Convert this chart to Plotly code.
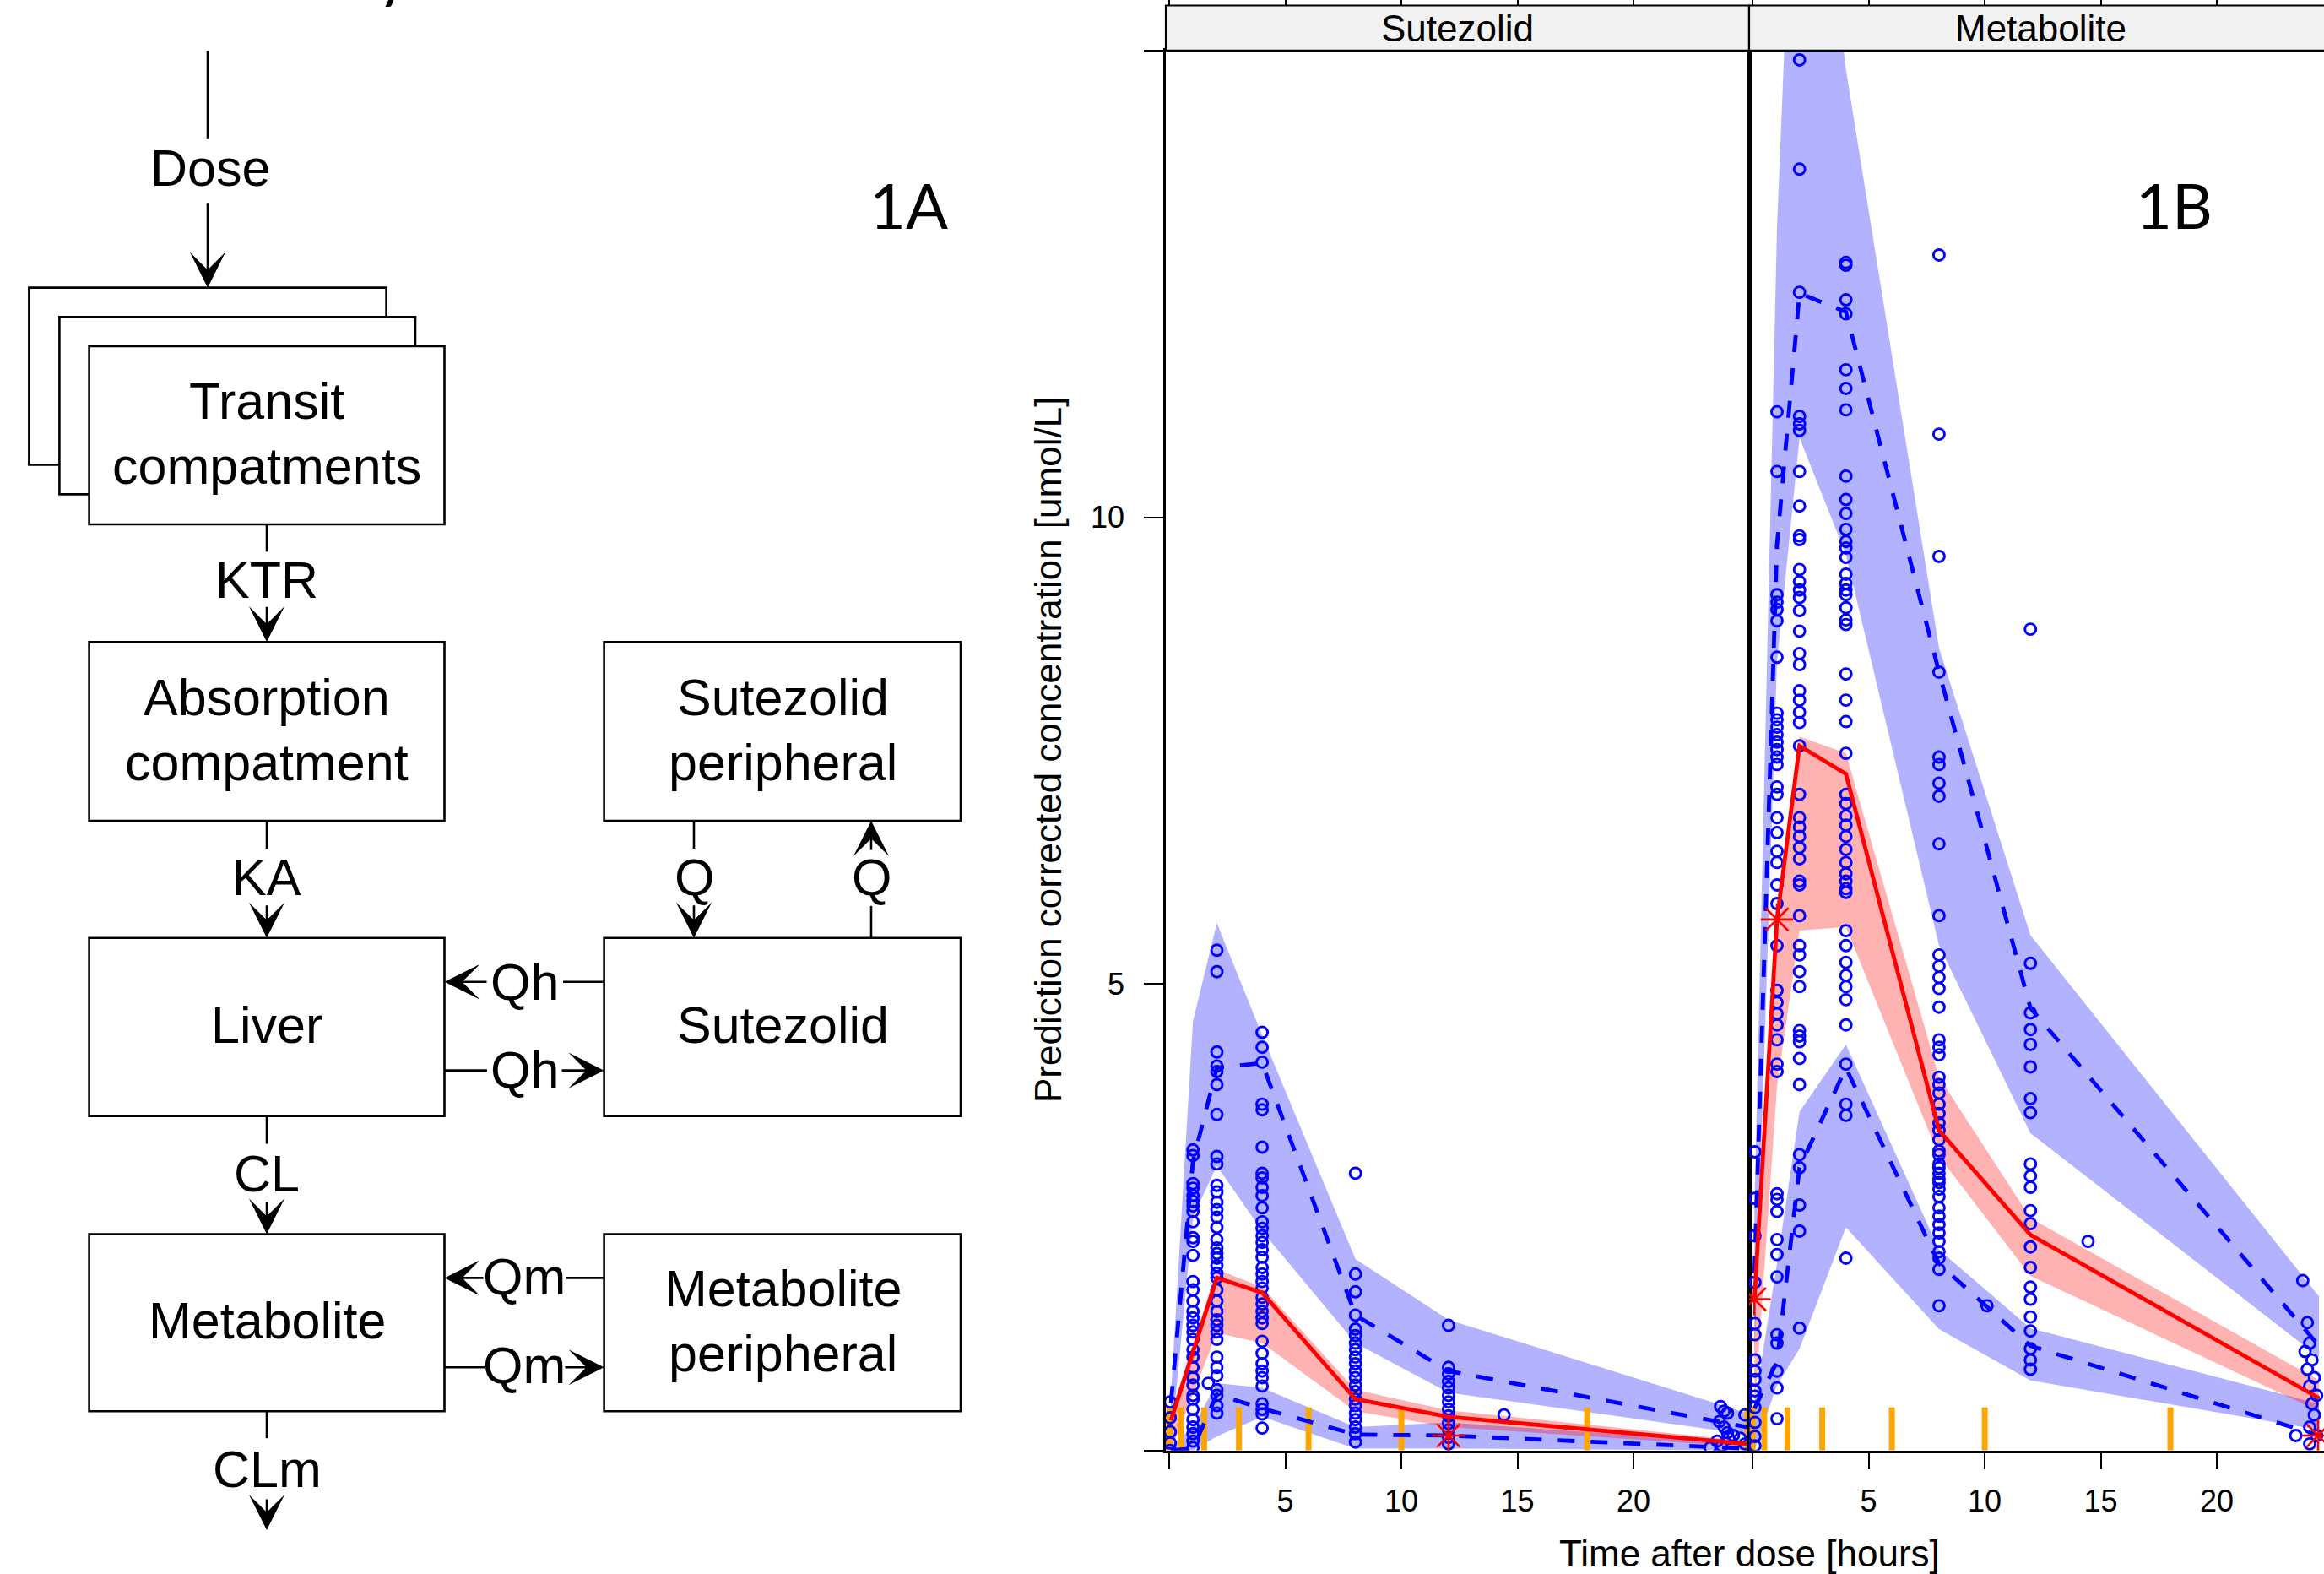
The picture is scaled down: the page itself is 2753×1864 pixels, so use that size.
import plotly.graph_objects as go

W, H = 2753, 1864

# ---------------- VPC data: Sutezolid panel ----------------
sut_bin_time = [0.07, 1.02, 2.05, 4.0, 8.02, 12.03, 24.9]
sut_obs_median = [0.32, 1.05, 1.85, 1.69, 0.55, 0.36, 0.07]
sut_obs_p95 = [0.51, 3.1, 4.1, 4.15, 1.45, 0.85, 0.25]
sut_obs_p5 = [0.0, 0.02, 0.6, 0.45, 0.17, 0.16, 0.02]
sut_ci95_lo = [0.05, 2.5, 3.05, 2.35, 1.15, 0.62, 0.17]
sut_ci95_hi = [0.6, 4.6, 5.65, 4.45, 2.05, 1.4, 0.40]
sut_ci50_lo = [0.0, 0.6, 1.26, 1.15, 0.42, 0.25, 0.04]
sut_ci50_hi = [0.4, 1.15, 1.94, 1.75, 0.65, 0.43, 0.1]
sut_ci5_lo = [0.0, 0.0, 0.15, 0.36, 0.02, 0.02, 0.0]
sut_ci5_hi = [0.05, 0.25, 0.72, 0.67, 0.25, 0.3, 0.08]
sut_bin_edges = [0, 0.5, 1.5, 3, 6, 10, 18, 24.9]
sut_flag_time = [12.03]
sut_flag_conc = [0.16]

sut_col_times = [0.04, 1.02, 1.68, 2.05, 4.0, 8.02, 12.03, 14.42]
sut_col_0h = [0.52, 0.35, 0.2, 0.08, 0.0]
sut_col_1h = [3.22, 3.16, 2.86, 2.81, 2.73, 2.67, 2.62, 2.56, 2.45, 2.28, 2.24, 2.09, 1.81, 1.72,
              1.6, 1.49, 1.42, 1.34, 1.27, 1.19, 1.08, 1.0, 0.89, 0.78, 0.7, 0.59, 0.55, 0.44,
              0.33, 0.25, 0.18, 0.1, 0.03]
sut_col_1h7 = [0.72]
sut_col_2h = [5.36, 5.13, 4.27, 4.12, 4.06, 3.92, 3.6, 3.15, 3.07, 2.84, 2.77, 2.66, 2.58, 2.5,
              2.39, 2.26, 2.17, 2.11, 2.06, 1.98, 1.9, 1.85, 1.72, 1.6, 1.49, 1.4, 1.34, 1.27,
              1.19, 1.0, 0.89, 0.8, 0.65, 0.59, 0.48, 0.4]
sut_col_4h = [4.48, 4.32, 4.16, 3.71, 3.65, 3.25, 2.97, 2.92, 2.82, 2.73, 2.6, 2.45, 2.38, 2.3,
              2.23, 2.15, 2.07, 1.96, 1.89, 1.81, 1.74, 1.64, 1.57, 1.49, 1.42, 1.36, 1.17, 1.04,
              0.93, 0.85, 0.78, 0.69, 0.5, 0.44, 0.39, 0.24]
sut_col_8h = [2.97, 1.89, 1.7, 1.45, 1.3, 1.23, 1.15, 1.08, 1.0, 0.93, 0.85, 0.78, 0.7, 0.63,
              0.55, 0.48, 0.4, 0.33, 0.25, 0.18, 0.09]
sut_col_12h = [1.34, 0.89, 0.82, 0.74, 0.67, 0.59, 0.52, 0.44, 0.37, 0.29, 0.22, 0.14, 0.07]
sut_col_14h = [0.38]
sut_late_time = [23.75, 23.9, 24.05, 23.7, 23.9, 24.05, 24.1, 24.3, 23.6, 23.8, 24.8, 24.6, 24.8, 23.3]
sut_late_conc = [0.47, 0.42, 0.4, 0.31, 0.25, 0.19, 0.13, 0.16, 0.1, 0.05, 0.38, 0.13, 0.07, 0.03]

# ---------------- VPC data: Metabolite panel ----------------
met_bin_time = [0.08, 1.05, 2.02, 4.02, 8.03, 11.97, 24.4]
met_obs_median = [1.62, 5.69, 7.55, 7.25, 3.43, 2.31, 0.56]
met_obs_p95 = [1.9, 9.7, 12.4, 12.2, 8.34, 4.74, 1.12]
met_obs_p5 = [0.45, 0.95, 3.03, 4.1, 2.0, 1.12, 0.16]
met_ci95_lo = [1.0, 8.45, 10.85, 9.6, 5.41, 3.4, 1.0]
met_ci95_hi = [2.6, 13.1, 19.0, 14.8, 8.6, 5.52, 1.65]
met_ci50_lo = [0.4, 3.9, 5.57, 5.61, 3.15, 1.87, 0.42]
met_ci50_hi = [1.3, 5.4, 7.65, 7.47, 4.0, 2.49, 0.75]
met_ci5_lo = [0.0, 0.7, 1.09, 2.39, 1.3, 0.75, 0.22]
met_ci5_hi = [0.5, 2.0, 3.63, 4.35, 2.15, 1.31, 0.5]
met_bin_edges = [0, 0.5, 1.5, 3, 6, 10, 18, 24.9]
met_flag_time = [0.08, 1.05, 24.36]
met_flag_conc = [1.62, 5.69, 0.16]

met_col_times = [0.1, 1.05, 2.02, 4.02, 8.03, 10.1, 11.97, 14.45]
met_col_0h = [3.2, 2.7, 2.3, 1.8, 1.36, 1.24, 0.97, 0.85, 0.76, 0.64, 0.58, 0.46, 0.3, 0.15, 0.05]
met_col_1h = [11.13, 10.49, 9.17, 9.09, 9.01, 8.89, 8.5, 7.9, 7.83, 7.75, 7.67, 7.59, 7.51, 7.43,
              7.35, 7.11, 7.03, 6.78, 6.62, 6.42, 6.3, 6.06, 5.86, 5.41, 4.93, 4.8, 4.68, 4.56,
              4.4, 4.14, 4.06, 2.75, 2.69, 2.56, 2.26, 2.1, 1.86, 1.24, 1.15, 0.85, 0.67, 0.34]
met_col_2h = [14.9, 13.73, 12.41, 11.08, 11.0, 10.93, 10.49, 10.12, 9.8, 9.76, 9.44, 9.31, 9.22,
              9.14, 9.0, 8.78, 8.54, 8.42, 8.14, 8.04, 7.91, 7.8, 7.55, 7.03, 6.78, 6.68, 6.58,
              6.46, 6.34, 6.1, 6.06, 5.73, 5.41, 5.31, 5.13, 4.97, 4.5, 4.44, 4.38, 4.2, 3.92,
              3.17, 3.03, 2.63, 2.35, 1.31]
met_col_4h = [12.73, 12.7, 12.33, 12.18, 11.58, 11.38, 11.15, 10.44, 10.19, 10.04, 9.87, 9.74,
              9.67, 9.57, 9.39, 9.29, 9.22, 9.17, 9.03, 8.9, 8.85, 8.32, 8.04, 7.81, 7.47, 7.03,
              6.93, 6.8, 6.7, 6.58, 6.44, 6.3, 6.18, 6.1, 6.02, 5.98, 5.57, 5.41, 5.23, 5.09,
              4.97, 4.83, 4.56, 4.14, 3.71, 3.59, 2.06]
met_col_8h = [12.81, 10.89, 9.58, 8.34, 7.43, 7.35, 7.15, 7.01, 6.5, 5.73, 5.31, 5.19, 5.07, 4.95,
              4.75, 4.4, 4.32, 4.24, 4.0, 3.92, 3.83, 3.71, 3.61, 3.51, 3.43, 3.33, 3.21, 3.17,
              3.07, 3.03, 2.97, 2.91, 2.87, 2.8, 2.72, 2.6, 2.51, 2.42, 2.33, 2.24, 2.13, 2.06,
              1.94, 1.55]
met_col_10h = [1.55]
met_col_12h = [8.8, 5.22, 4.69, 4.51, 4.35, 4.11, 3.77, 3.62, 3.07, 2.94, 2.82, 2.57, 2.43, 2.18,
               1.96, 1.75, 1.62, 1.43, 1.28, 1.09, 0.97, 0.87]
met_col_14h = [2.24]
met_late_time = [23.7, 23.9, 24.0, 23.8, 24.1, 23.9, 24.2, 24.0, 24.3, 24.1, 24.2, 24.0, 24.3, 23.4, 24.0]
met_late_conc = [1.82, 1.37, 1.15, 1.06, 0.97, 0.87, 0.78, 0.69, 0.59, 0.5, 0.38, 0.25, 0.16, 0.16, 0.07]

x_ticks = [0, 5, 10, 15, 20]
x_tick_text = ["", "5", "10", "15", "20"]
y_ticks = [0, 5, 10, 15]
y_tick_text = ["", "5", "10", ""]

BLUE = "#0000ff"
RED = "#ff0000"
BLUE_BAND = "rgba(0,0,255,0.30)"
RED_BAND = "rgba(255,0,0,0.30)"
ORANGE = "#ffa500"
FONT = "Liberation Sans, Arial, sans-serif"
LETTER_FONT = "Lato, Open Sans, sans-serif"

fig = go.Figure()


def build_obs(col_times, cols, late_t, late_c):
    xs, ys = [], []
    for t, vals in zip(col_times, cols):
        xs += [t] * len(vals)
        ys += list(vals)
    xs += list(late_t)
    ys += list(late_c)
    return xs, ys


def add_panel(xa, ya, bt, med, p95, p5, c95, c50, c5, edges, ox, oy, ft, fc):
    for lo, hi, col in [(c95[0], c95[1], BLUE_BAND), (c5[0], c5[1], BLUE_BAND), (c50[0], c50[1], RED_BAND)]:
        fig.add_trace(go.Scatter(x=bt + bt[::-1], y=hi + lo[::-1], mode="lines", fill="toself",
                                 fillcolor=col, line=dict(width=0), xaxis=xa, yaxis=ya,
                                 hoverinfo="skip"))
    rx, ry = [], []
    for e in edges:
        rx += [e, e, None]
        ry += [0, 0.46, None]
    fig.add_trace(go.Scatter(x=rx, y=ry, mode="lines", line=dict(color=ORANGE, width=7),
                             xaxis=xa, yaxis=ya, hoverinfo="skip"))
    fig.add_trace(go.Scatter(x=ox, y=oy, mode="markers",
                             marker=dict(symbol="circle-open", size=13, color=BLUE,
                                         line=dict(width=2.9, color=BLUE)),
                             xaxis=xa, yaxis=ya))
    for p in (p95, p5):
        fig.add_trace(go.Scatter(x=bt, y=p, mode="lines",
                                 line=dict(color=BLUE, width=4.8, dash="20px,19px"),
                                 xaxis=xa, yaxis=ya))
    fig.add_trace(go.Scatter(x=bt, y=med, mode="lines", line=dict(color=RED, width=4.8),
                             xaxis=xa, yaxis=ya))
    fig.add_trace(go.Scatter(x=ft, y=fc, mode="markers",
                             marker=dict(symbol="asterisk-open", size=32, color=RED,
                                         line=dict(width=2.6, color=RED)),
                             xaxis=xa, yaxis=ya))


sox, soy = build_obs(sut_col_times, [sut_col_0h, sut_col_1h, sut_col_1h7, sut_col_2h, sut_col_4h,
                                     sut_col_8h, sut_col_12h, sut_col_14h], sut_late_time, sut_late_conc)
mox, moy = build_obs(met_col_times, [met_col_0h, met_col_1h, met_col_2h, met_col_4h, met_col_8h,
                                     met_col_10h, met_col_12h, met_col_14h], met_late_time, met_late_conc)

add_panel("x", "y", sut_bin_time, sut_obs_median, sut_obs_p95, sut_obs_p5,
          (sut_ci95_lo, sut_ci95_hi), (sut_ci50_lo, sut_ci50_hi), (sut_ci5_lo, sut_ci5_hi),
          sut_bin_edges, sox, soy, sut_flag_time, sut_flag_conc)
add_panel("x2", "y2", met_bin_time, met_obs_median, met_obs_p95, met_obs_p5,
          (met_ci95_lo, met_ci95_hi), (met_ci50_lo, met_ci50_hi), (met_ci5_lo, met_ci5_hi),
          met_bin_edges, mox, moy, met_flag_time, met_flag_conc)

# dummy traces so the top tick overlays are drawn
fig.add_trace(go.Scatter(x=[None], y=[None], xaxis="x3", yaxis="y", hoverinfo="skip"))
fig.add_trace(go.Scatter(x=[None], y=[None], xaxis="x4", yaxis="y2", hoverinfo="skip"))


def PX(x):
    return x / W


def PY(y):
    return 1 - y / H


def label(txt, x, y, size, family=FONT, **kw):
    d = dict(text=txt, xref="paper", yref="paper", x=PX(x), y=PY(y), showarrow=False,
             xanchor="center", yanchor="middle", font=dict(size=size, family=family, color="black"))
    d.update(kw)
    return d


PANEL_L, PANEL_M, PANEL_TOP, PANEL_BOT, STRIP_TOP = 1381, 2072, 58, 1717.5, 4.5
PANEL_W = PANEL_M - PANEL_L
PX_PER_H = PANEL_W / 25.13
x_rng1 = [-0.15, 24.98]
x_rng2 = [-0.15, -0.15 + (W - PANEL_M) / PX_PER_H]

xa_common = dict(showgrid=False, zeroline=False, showline=True, linecolor="black", linewidth=2.5,
                 mirror=True, ticks="outside", ticklen=20, tickwidth=2, tickcolor="black",
                 tickvals=x_ticks, ticktext=x_tick_text, tickfont=dict(size=36, family=FONT),
                 ticklabelstandoff=6)
ya_dom = [PY(PANEL_BOT), PY(PANEL_TOP)]

fig.update_layout(
    width=W, height=H, margin=dict(l=0, r=0, t=0, b=0),
    paper_bgcolor="white", plot_bgcolor="white", showlegend=False,
    font=dict(family=FONT, color="black"),
    xaxis=dict(domain=[PX(PANEL_L), PX(PANEL_M)], range=x_rng1, anchor="y", **xa_common),
    xaxis2=dict(domain=[PX(PANEL_M), 1.0], range=x_rng2, anchor="y2", **xa_common),
    yaxis=dict(domain=ya_dom, range=[0, 15], anchor="x", showgrid=False, zeroline=False,
               showline=True, linecolor="black", linewidth=2.5, mirror=True,
               ticks="outside", ticklen=23, tickwidth=2, tickcolor="black",
               tickvals=y_ticks, ticktext=y_tick_text, tickfont=dict(size=36, family=FONT),
               ticklabelstandoff=16),
    yaxis2=dict(domain=ya_dom, range=[0, 15], anchor="x2", showgrid=False, zeroline=False,
                showline=True, linecolor="black", linewidth=2.5, mirror=False,
                ticks="", showticklabels=False),
    xaxis3=dict(overlaying="x", anchor="free", position=PY(STRIP_TOP), side="top",
                range=x_rng1, showgrid=False, zeroline=False, showline=False,
                ticks="outside", ticklen=6, tickwidth=2, tickcolor="black",
                tickvals=x_ticks, showticklabels=False),
    xaxis4=dict(overlaying="x2", anchor="free", position=PY(STRIP_TOP), side="top",
                range=x_rng2, showgrid=False, zeroline=False, showline=False,
                ticks="outside", ticklen=6, tickwidth=2, tickcolor="black",
                tickvals=x_ticks, showticklabels=False),
)

shapes = []
annotations = []

# strips
for x0, strip_label in [(PANEL_L, "Sutezolid"), (PANEL_M, "Metabolite")]:
    shapes.append(dict(type="rect", xref="paper", yref="paper", x0=PX(x0), x1=PX(x0 + PANEL_W),
                       y0=PY(PANEL_TOP), y1=PY(STRIP_TOP), fillcolor="#f2f2f2",
                       line=dict(color="black", width=2.2), layer="above"))
    annotations.append(label(strip_label, x0 + PANEL_W / 2, 32, 44))

# axis titles
annotations.append(label("Prediction corrected concentration [umol/L]", 1241, 887, 44, textangle=-90))
annotations.append(label("Time after dose [hours]", 2072, 1839, 44))

# panel letters and header fragment
annotations.append(label("1A", 1076, 241, 74, LETTER_FONT))
annotations.append(label("1B", 2575, 241, 74, LETTER_FONT))
annotations.append(label("y", 466, -36, 74, LETTER_FONT))

# ---------------- compartment diagram ----------------
LW = 2.6
boxes = [
    (34.4, 339, 457.6, 549), (70.4, 373.7, 492, 584), (105.6, 408.5, 526.5, 619.6),
    (105.6, 759, 526.5, 971), (715.6, 759, 1138, 971),
    (105.6, 1110, 526.5, 1321), (715.6, 1110, 1138, 1321),
    (105.6, 1461, 526.5, 1671), (715.6, 1461, 1138, 1671),
]
for x0, y0, x1, y1 in boxes:
    shapes.append(dict(type="rect", xref="paper", yref="paper", x0=PX(x0), x1=PX(x1),
                       y0=PY(y1), y1=PY(y0), fillcolor="white", line=dict(color="black", width=LW)))

box_text = [
    ("Transit", 316, 474), ("compatments", 316, 551),
    ("Absorption", 316, 825), ("compatment", 316, 902),
    ("Sutezolid", 927, 825), ("peripheral", 927, 902),
    ("Liver", 316, 1213), ("Sutezolid", 927, 1213),
    ("Metabolite", 316, 1564), ("Metabolite", 927, 1526), ("peripheral", 927, 1603),
    ("Dose", 249, 197), ("KTR", 316, 686), ("KA", 316, 1038), ("Q", 822, 1038), ("Q", 1032, 1038),
    ("Qh", 621, 1162), ("Qh", 621, 1266), ("CL", 316, 1389), ("Qm", 621, 1512), ("Qm", 621, 1617),
    ("CLm", 316, 1740),
]
for txt, x, y in box_text:
    annotations.append(label(txt, x, y, 61))

plain_lines = [
    (246, 58, 246, 163), (316, 619.6, 316, 652), (316, 971, 316, 1004), (316, 1321, 316, 1354),
    (316, 1671, 316, 1703), (822, 971, 822, 1004), (1032, 1110, 1032, 1072),
    (715.6, 1162, 667, 1162), (526.5, 1267, 577, 1267), (715.6, 1513, 671, 1513),
    (526.5, 1619, 574, 1619),
]
for x0, y0, x1, y1 in plain_lines:
    shapes.append(dict(type="line", xref="paper", yref="paper", x0=PX(x0), x1=PX(x1),
                       y0=PY(y0), y1=PY(y1), line=dict(color="black", width=LW)))

arrows = [  # (tail x, tail y, tip x, tip y)
    (246, 237, 246, 339), (316, 716, 316, 759), (316, 1070, 316, 1110), (316, 1421, 316, 1461),
    (316, 1774, 316, 1812), (822, 1070, 822, 1110), (1032, 1007, 1032, 971),
    (578, 1162, 526.5, 1162), (664, 1267, 715.6, 1267), (574, 1513, 526.5, 1513),
    (668, 1619, 715.6, 1619),
]
for tx, ty, hx, hy in arrows:
    annotations.append(dict(text="", xref="paper", yref="paper", x=PX(hx), y=PY(hy),
                            ax=tx - hx, ay=ty - hy, axref="pixel", ayref="pixel", showarrow=True,
                            arrowhead=3, arrowsize=2.7, arrowwidth=LW, arrowcolor="black", standoff=0))

fig.update_layout(shapes=shapes, annotations=annotations)
fig.write_html("out.html", config={"displayModeBar": False},
               post_script="document.body.style.margin='0';document.body.style.overflow='hidden';")
